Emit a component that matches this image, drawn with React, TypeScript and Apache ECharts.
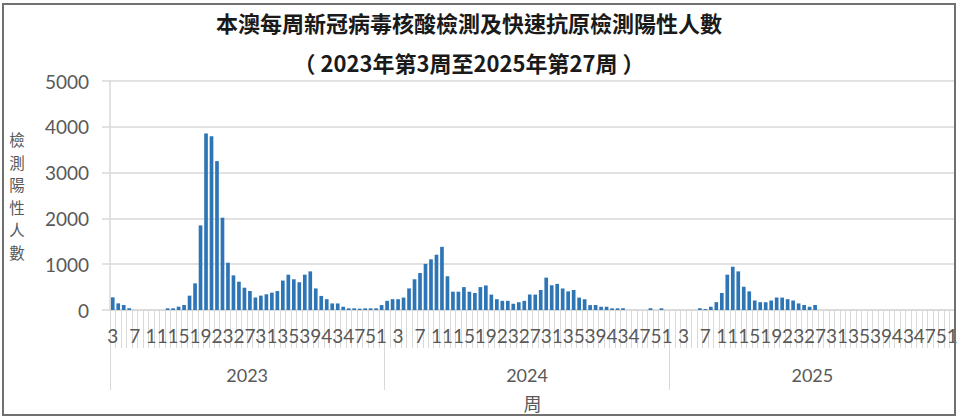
import React, { useEffect, useRef } from 'react';
import * as echarts from 'echarts';

// Week numbers (tick labels of the lower category level)
const weeks2023 = [3, 4, 5, 6, 7, 8, 9, 10, 11, 12, 13, 14, 15, 16, 17, 18, 19, 20, 21, 22, 23, 24, 25, 26, 27, 28, 29, 30, 31, 32, 33, 34, 35, 36, 37, 38, 39, 40, 41, 42, 43, 44, 45, 46, 47, 48, 49, 50, 51, 52];
const weeks2024 = [1, 2, 3, 4, 5, 6, 7, 8, 9, 10, 11, 12, 13, 14, 15, 16, 17, 18, 19, 20, 21, 22, 23, 24, 25, 26, 27, 28, 29, 30, 31, 32, 33, 34, 35, 36, 37, 38, 39, 40, 41, 42, 43, 44, 45, 46, 47, 48, 49, 50, 51, 52];
const weeks2025 = [1, 2, 3, 4, 5, 6, 7, 8, 9, 10, 11, 12, 13, 14, 15, 16, 17, 18, 19, 20, 21, 22, 23, 24, 25, 26, 27, 28, 29, 30, 31, 32, 33, 34, 35, 36, 37, 38, 39, 40, 41, 42, 43, 44, 45, 46, 47, 48, 49, 50, 51, 52];

// Years (upper category level)
const years = ['2023', '2024', '2025'];

// Weekly positive cases
const cases2023 = [276, 145, 109, 36, 0, 0, 0, 0, 0, 0, 36, 36, 73, 109, 313, 582, 1847, 3855, 3796, 3251, 2015, 1033, 756, 618, 487, 415, 271, 314, 343, 379, 414, 643, 771, 671, 607, 771, 843, 471, 307, 236, 143, 143, 71, 36, 36, 29, 36, 36, 36, 107];
const cases2024 = [200, 236, 236, 271, 471, 671, 807, 1007, 1107, 1207, 1379, 736, 400, 400, 500, 400, 371, 500, 536, 336, 236, 200, 200, 136, 171, 200, 336, 336, 436, 707, 543, 571, 471, 407, 436, 271, 236, 107, 107, 71, 71, 36, 36, 36, 0, 0, 0, 0, 36, 0, 36, 0];
const cases2025 = [0, 0, 0, 0, 0, 36, 21, 71, 171, 371, 771, 943, 843, 507, 407, 207, 171, 171, 207, 271, 271, 236, 207, 143, 107, 71, 107];

const TITLE = '本澳每周新冠病毒核酸檢測及快速抗原檢測陽性人數';
const SUBTITLE = '（ 2023年第3周至2025年第27周 ）';
const Y_NAME = '檢測陽性人數';
const X_NAME = '周';

export default function App() {
  const ref = useRef<HTMLDivElement>(null);

  useEffect(() => {
    if (!ref.current) return;
    const chart = echarts.init(ref.current, undefined, { renderer: 'svg' });

    const weeksByYear = [weeks2023, weeks2024, weeks2025];
    const casesByYear = [cases2023, cases2024, cases2025];
    const categories: string[] = [];
    const values: (number | null)[] = [];
    weeksByYear.forEach((ws, k) => {
      ws.forEach((w, i) => {
        categories.push(years[k] + '-' + w);
        const v = casesByYear[k][i];
        values.push(v === undefined ? null : v);
      });
    });
    const bounds: number[] = [0];
    weeksByYear.forEach((ws) => bounds.push(bounds[bounds.length - 1] + ws.length));
    const mids = years.map((_, k) => (bounds[k] + bounds[k + 1]) / 2);
    const total = bounds[bounds.length - 1];

    const gray = '#d9d9d9';
    const labelColor = '#595959';

    chart.setOption({
      animation: false,
      backgroundColor: '#ffffff',
      title: {
        text: TITLE + '\n' + SUBTITLE,
        left: 469,
        top: 2,
        padding: 0,
        textAlign: 'center',
        textStyle: {
          fontFamily: 'Noto Sans CJK TC',
          fontSize: 22,
          fontWeight: 'bold',
          color: '#1a1a1a',
          lineHeight: 40,
        },
      },
      grid: { left: 110, right: 5, top: 81, bottom: 108, containLabel: false, outerBoundsMode: 'none' },
      xAxis: [
        {
          type: 'category',
          data: categories,
          position: 'bottom',
          axisLine: { show: true, onZero: false, lineStyle: { color: gray, width: 1.5 } },
          axisTick: { show: true, interval: 0, length: 38, lineStyle: { color: gray, width: 1 } },
          axisLabel: {
            interval: 3,
            margin: 16,
            fontSize: 19,
            fontFamily: 'Lato',
            color: labelColor,
            formatter: (v: string) => v.split('-')[1],
          },
          splitLine: { show: false },
        },
        {
          type: 'value',
          min: 0,
          max: total,
          position: 'bottom',
          axisLine: { show: false, onZero: false },
          splitLine: { show: false },
          axisTick: { show: true, customValues: bounds, length: 80, lineStyle: { color: gray, width: 1 } },
          axisLabel: {
            customValues: mids,
            margin: 56,
            fontSize: 18,
            fontFamily: 'Lato',
            color: labelColor,
            formatter: (v: number) => {
              const k = mids.indexOf(v);
              return k >= 0 ? years[k] : '';
            },
          },
          name: X_NAME,
          nameLocation: 'middle',
          nameGap: 84,
          nameTextStyle: { fontSize: 18, color: labelColor, fontFamily: 'Noto Sans CJK TC' },
        },
      ],
      yAxis: {
        type: 'value',
        min: 0,
        max: 5000,
        interval: 1000,
        axisLine: { show: true, onZero: false, lineStyle: { color: gray, width: 1.5 } },
        axisTick: { show: true, length: 8, lineStyle: { color: gray, width: 1.5 } },
        splitLine: { show: true, lineStyle: { color: gray, width: 1.5 } },
        axisLabel: {
          margin: 21,
          fontSize: 19,
          fontFamily: 'Lato',
          color: labelColor,
          formatter: (v: number) => String(v),
        },
        name: Y_NAME.split('').join('\n'),
        nameLocation: 'middle',
        nameRotate: 0,
        nameGap: 93,
        nameTextStyle: {
          fontSize: 15.5,
          lineHeight: 22.5,
          color: labelColor,
          fontFamily: 'Noto Sans CJK TC',
          align: 'center',
          verticalAlign: 'middle',
          padding: [6, 0, 0, 0],
        },
      },
      series: [
        {
          type: 'bar',
          xAxisIndex: 0,
          yAxisIndex: 0,
          data: values,
          barCategoryGap: '33%',
          itemStyle: { color: '#2e75b6' },
        },
      ],
      graphic: [
        {
          type: 'rect',
          z: 100,
          silent: true,
          shape: { x: 3, y: 4, width: 952, height: 411 },
          style: { fill: 'none', stroke: '#707070', lineWidth: 2 },
        },
      ],
    });

    return () => chart.dispose();
  }, []);

  return (
    <div
      ref={ref}
      style={{ position: 'fixed', left: 0, top: 0, width: 960, height: 418, background: '#fff' }}
    />
  );
}
